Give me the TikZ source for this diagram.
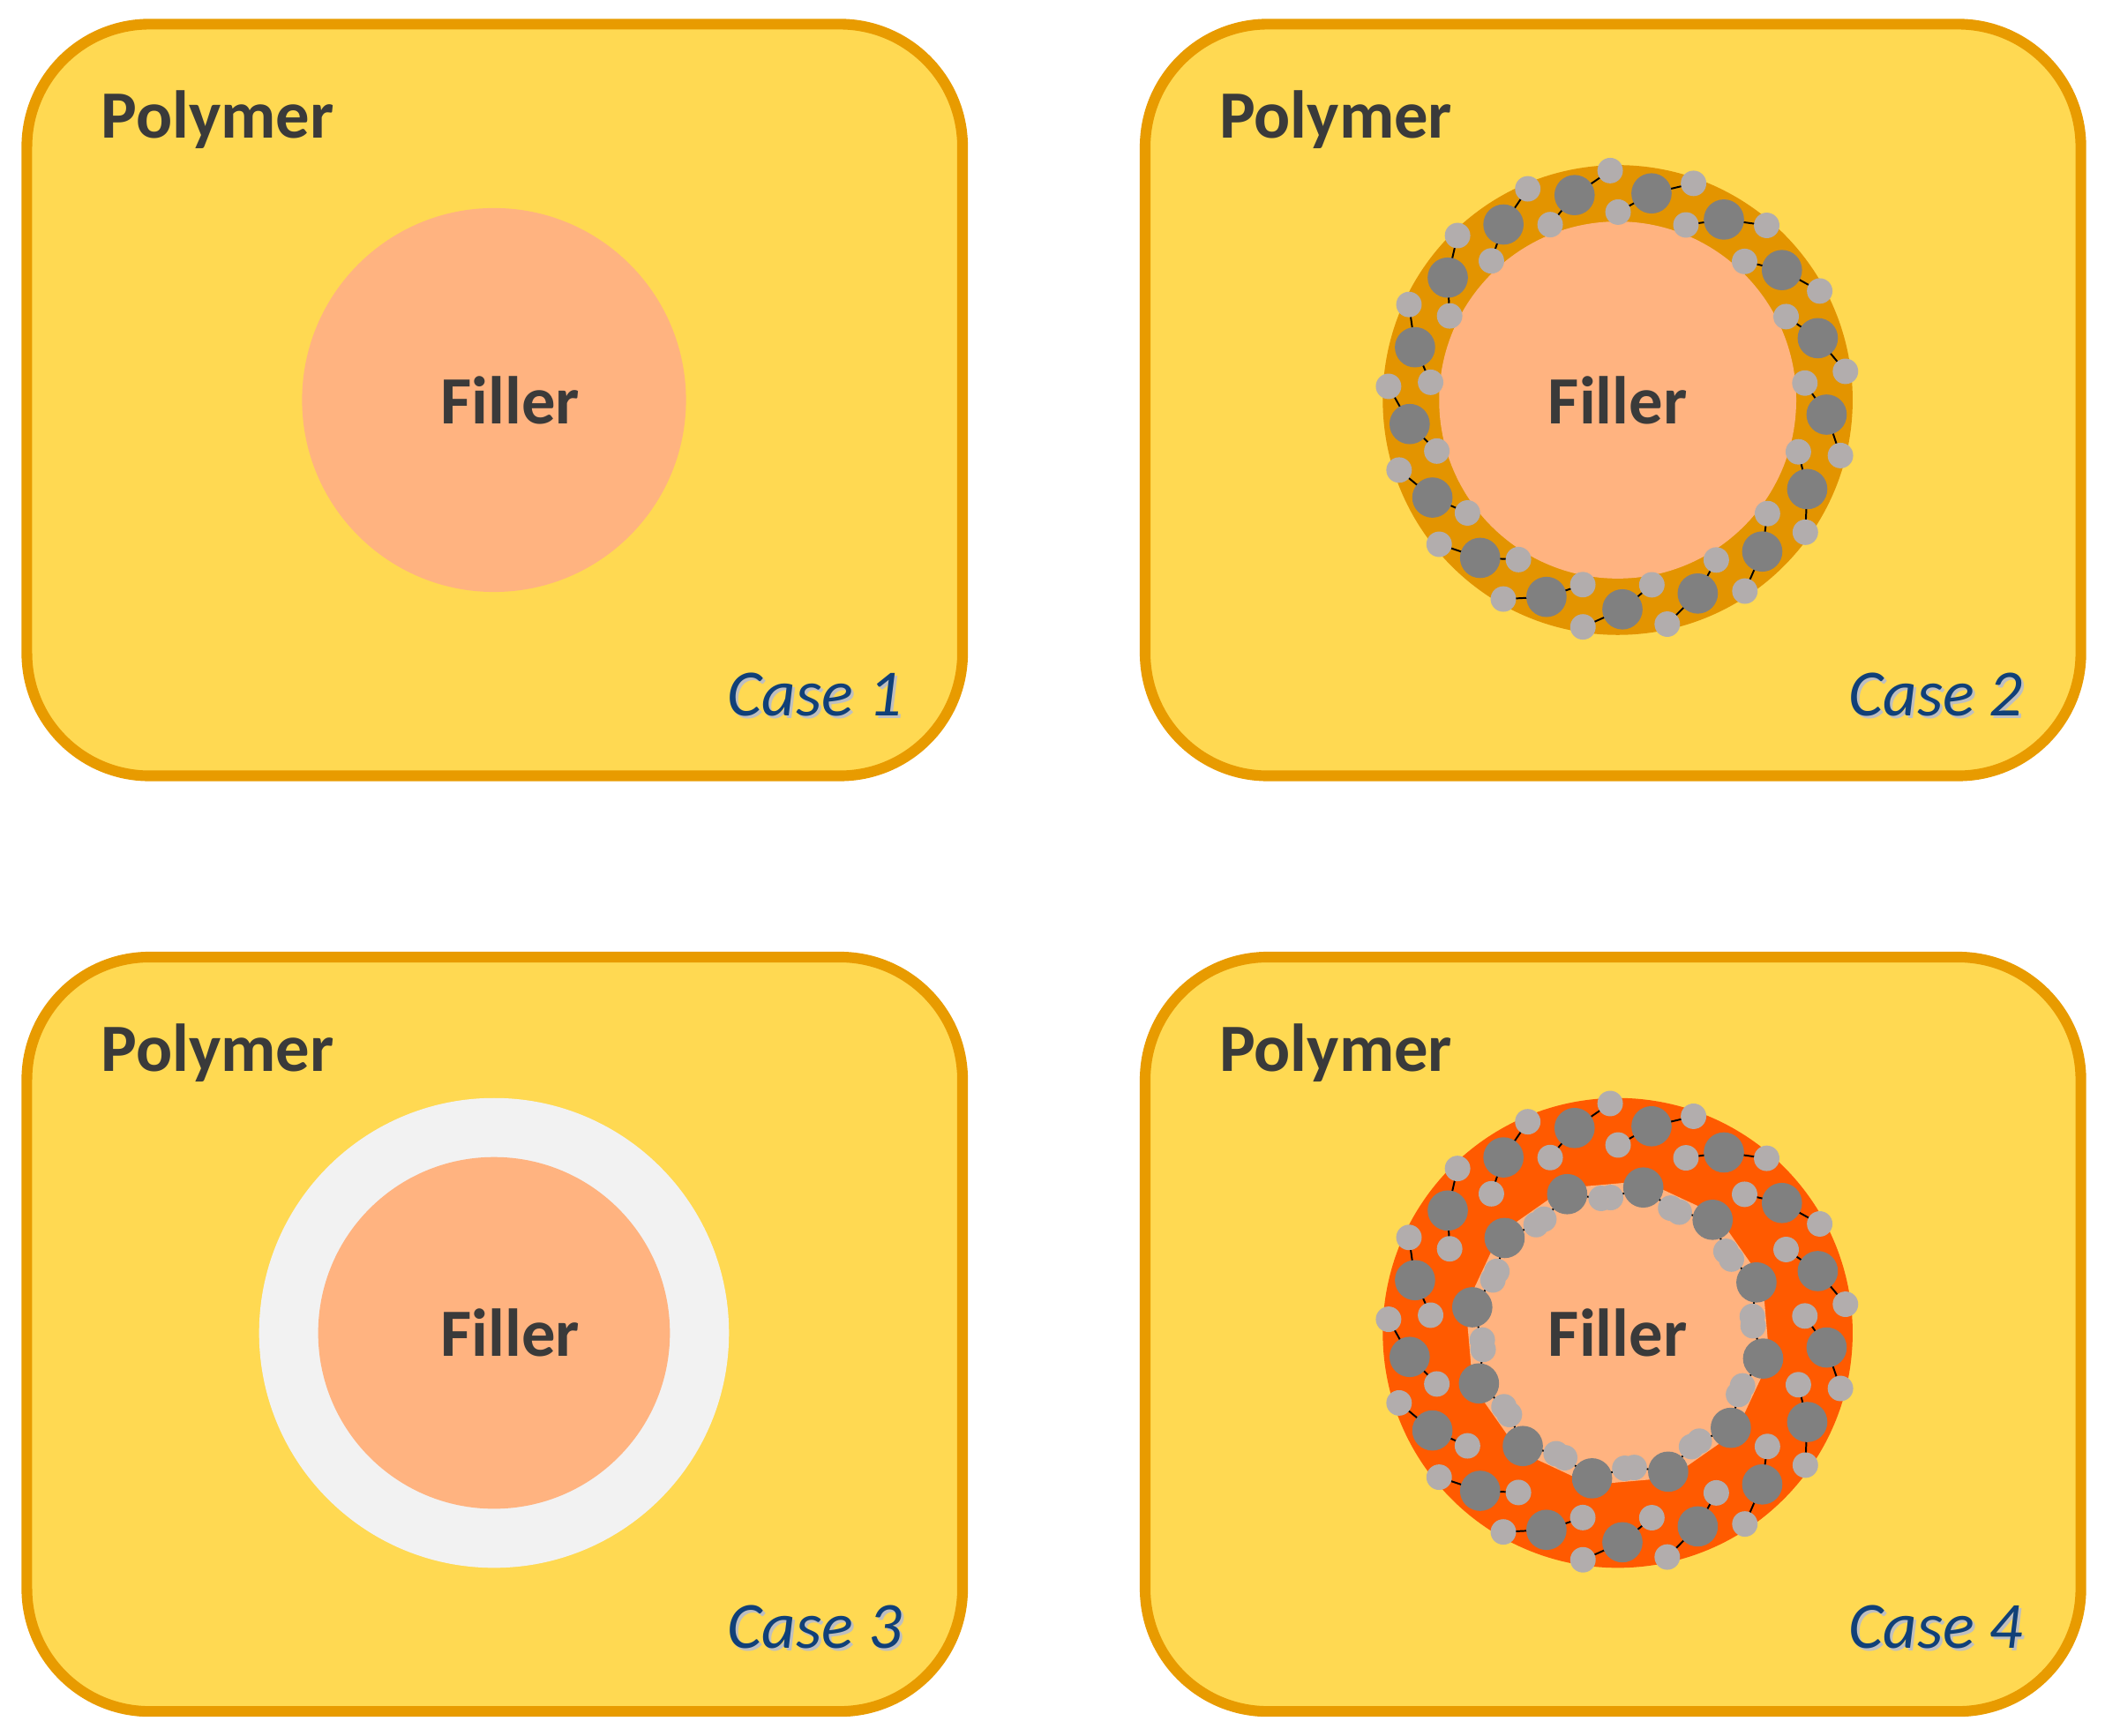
\documentclass[tikz,border=0pt]{standalone}
\usepackage{fontspec}
\setmainfont{Carlito}
\definecolor{poly}{RGB}{255,217,82}
\definecolor{edge}{RGB}{232,155,0}
\definecolor{fillc}{RGB}{255,179,128}
\definecolor{ring2}{RGB}{227,148,0}
\definecolor{ring4}{RGB}{255,90,0}
\definecolor{ring3}{RGB}{242,242,242}
\definecolor{bigc}{RGB}{128,128,128}
\definecolor{smallc}{RGB}{178,173,173}
\definecolor{txt}{RGB}{58,58,58}
\definecolor{casec}{RGB}{16,64,120}
\tikzset{
 panel/.style={fill=poly,draw=edge,line width=6.8pt,rounded corners=78},
 polytxt/.style={anchor=base west,font=\fontsize{43}{46}\selectfont\bfseries,text=txt,inner sep=0},
 filtxt/.style={font=\fontsize{43}{45}\selectfont\bfseries,text=txt,inner sep=0},
 casetxt/.style={anchor=base east,font=\fontsize{42}{44}\selectfont\itshape,text=casec,inner sep=0},
 link/.style={draw=black,line width=1.1pt},
}
\newcommand\outerchain{%
 \foreach \i in {0,...,16}{%
  \pgfmathsetmacro\a{\i*360/17+4}
  \pgfmathsetmacro\b{\a+360/17}
  \draw[link] (\a:156) -- (\a+10:171) (\a+12:140) -- (\b:156);
 }
 \foreach \i in {0,...,16}{%
  \pgfmathsetmacro\a{\i*360/17+4}
  \fill[smallc] (\a+10:171) circle (9.5) (\a+12:140) circle (9.5);
  \fill[bigc] (\a:156) circle (15);
 }}
\begin{document}
\begin{tikzpicture}[x=0.3mm,y=-0.3mm]
\useasboundingbox (0,0) rectangle (1568,1293);
% panels
\draw[panel] (20,18) rectangle (717,578);
\draw[panel] (853,18) rectangle (1550,578);
\draw[panel] (20,713) rectangle (717,1275);
\draw[panel] (853,713) rectangle (1550,1275);
% case 1
\fill[fillc] (368,298) circle (143);
\node[filtxt] (f1) at (380,298) {Filler};
% case 2
\fill[ring2] (1205,298) circle (175);
\fill[fillc] (1205,298) circle (133);
\begin{scope}[shift={(1205,298)}]\outerchain\end{scope}
\node[filtxt] (f2) at (1205,298) {Filler};
% case 3
\fill[ring3] (368,993) circle (175);
\fill[fillc] (368,993) circle (131);
\node[filtxt] (f3) at (380,993) {Filler};
% case 4
\fill[ring4] (1205,993) circle (175);
\begin{scope}[shift={(1205,993)}]
 \fill[fillc] (0,0) circle (106);
 \foreach \i in {0,...,11}{%
  \pgfmathsetmacro\a{\i*30+10}
  \pgfmathsetmacro\b{\a+30}
  \draw[fillc,line width=8pt] (\a:110) -- (\b:110);
  \draw[link] (\a:110) -- (\a+13:101) (\a+17:101) -- (\b:110);
 }
 \foreach \i in {0,...,11}{%
  \pgfmathsetmacro\a{\i*30+10}
  \fill[smallc] (\a+13:101) circle (9.5) (\a+17:101) circle (9.5);
  \fill[bigc] (\a:110) circle (15);
 }
 \outerchain
\end{scope}
\node[filtxt] (f4) at (1205,993) {Filler};
% labels
\foreach \x/\y/\n in {75/103/a,908/103/b,75/798/c,908/798/d}{
 \node[polytxt] (pl\n) at (\x,\y) {Polymer};}
\foreach \x/\y/\n in {672/533/1,1507/533/2,672/1228/3,1507/1228/4}{
 \node[casetxt,text=black!25] (s\n) at (\x+2,\y+2) {Case \n};
 \node[casetxt] (c\n) at (\x,\y) {Case \n};}
\end{tikzpicture}
\end{document}
